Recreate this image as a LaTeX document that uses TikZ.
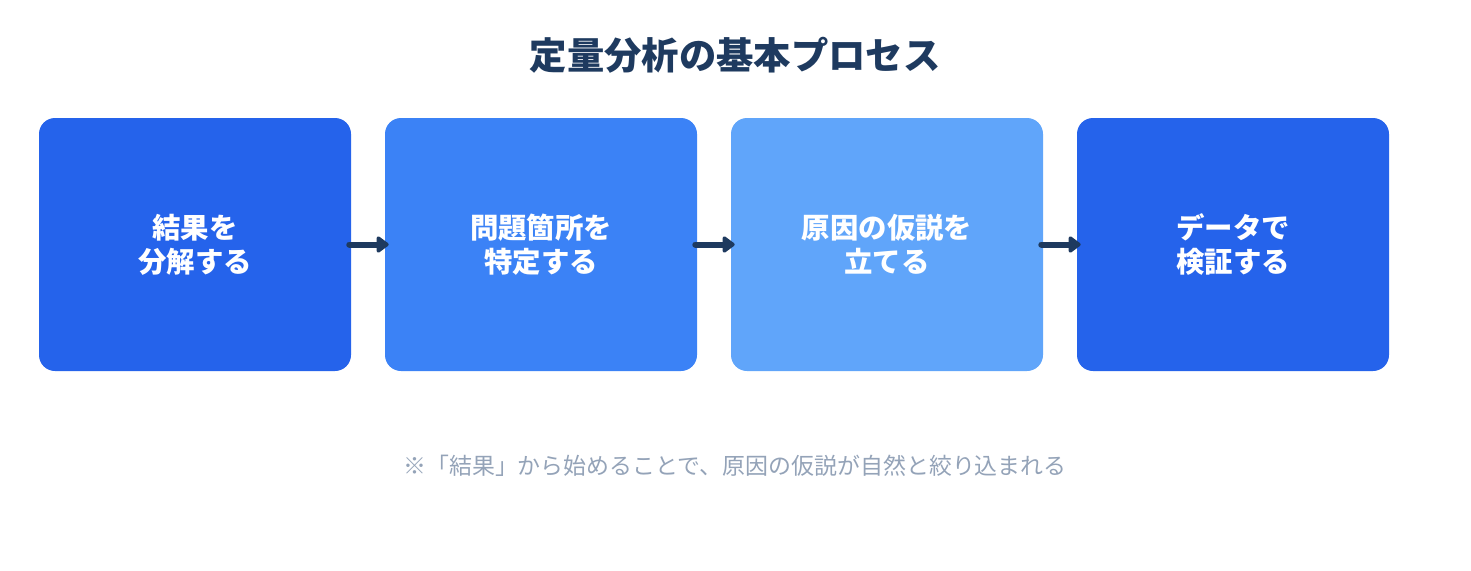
\documentclass[tikz,border=0pt]{standalone}
\usepackage{fontspec}
\newfontfamily\cjk{Noto Sans CJK JP}
\usepackage{xcolor}
\usetikzlibrary{arrows.meta,positioning}
\definecolor{navy}{HTML}{1E3A5F}
\definecolor{blueA}{HTML}{2563EB}
\definecolor{blueB}{HTML}{3B82F6}
\definecolor{blueC}{HTML}{60A5FA}
\definecolor{notegray}{HTML}{94A3B8}

\begin{document}
\begin{tikzpicture}[x=0.75pt,y=-0.75pt,
    stepbox/.style={rounded corners=12pt, minimum width=234pt, minimum height=189.75pt,
        inner sep=0pt, text=white, align=center,
        font=\cjk\bfseries\fontsize{21.3}{25.5}\selectfont},
    flow/.style={draw=navy, line width=4.5pt, line cap=round,
        -{Triangle[length=10pt,width=14pt,round]}}]
            \useasboundingbox (0,0) rectangle (1471,571);
            %Title
            \node[text=navy, font=\cjk\bfseries\fontsize{28}{32}\selectfont] (title) at (735,55) {定量分析の基本プロセス};
            %Boxes
            \node[stepbox, fill=blueA] (s1) at (195,244.5) {結果を\\分解する};
            \node[stepbox, fill=blueB] (s2) at (541,244.5) {問題箇所を\\特定する};
            \node[stepbox, fill=blueC] (s3) at (887,244.5) {原因の仮説を\\立てる};
            \node[stepbox, fill=blueA] (s4) at (1233,244.5) {データで\\検証する};
            %Arrows
            \draw[flow, shorten <=-1.5pt, shorten >=-3pt] (s1.east) -- (s2.west);
            \draw[flow, shorten <=-1.5pt, shorten >=-3pt] (s2.east) -- (s3.west);
            \draw[flow, shorten <=-1.5pt, shorten >=-3pt] (s3.east) -- (s4.west);
            %Note
            \node[text=notegray, font=\cjk\fontsize{17.2}{20}\selectfont] (note) at (735,466) {※「結果」から始めることで、原因の仮説が自然と絞り込まれる};
        \end{tikzpicture}
\end{document}
